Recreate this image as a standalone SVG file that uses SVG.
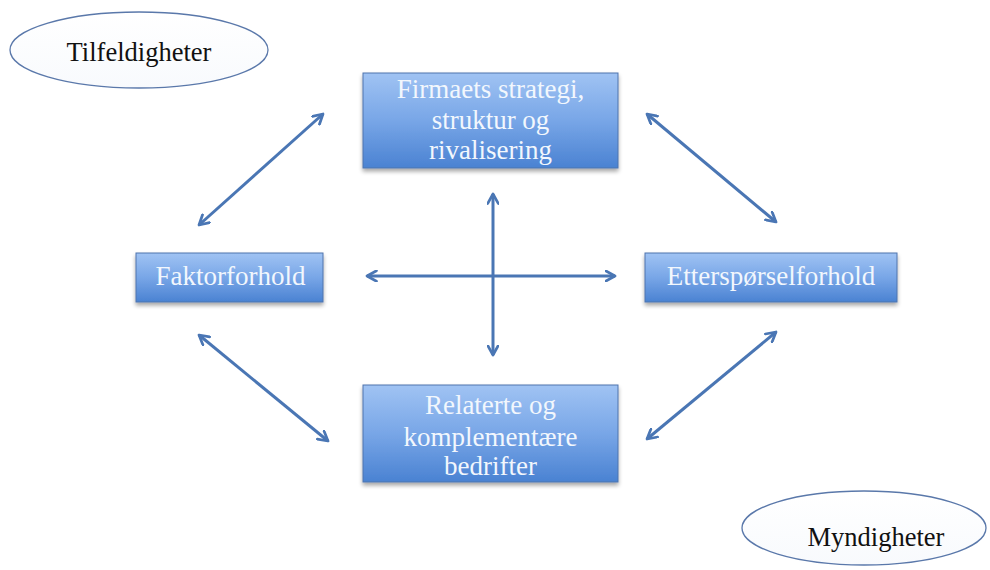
<svg xmlns="http://www.w3.org/2000/svg" width="990" height="570" viewBox="0 0 990 570">
  <defs>
    <linearGradient id="boxFill" x1="0" y1="0" x2="0" y2="1">
      <stop offset="0" stop-color="#a0c3f3"/>
      <stop offset="0.5" stop-color="#78a6e7"/>
      <stop offset="1" stop-color="#4a82d2"/>
    </linearGradient>
    <linearGradient id="ovalFill" x1="0" y1="0" x2="0" y2="1">
      <stop offset="0" stop-color="#ffffff"/>
      <stop offset="1" stop-color="#f8fafd"/>
    </linearGradient>
    <filter id="shadow" x="-10%" y="-10%" width="120%" height="130%">
      <feGaussianBlur in="SourceAlpha" stdDeviation="2"/>
      <feOffset dx="0" dy="3" result="b"/>
      <feComponentTransfer><feFuncA type="linear" slope="0.35"/></feComponentTransfer>
      <feMerge><feMergeNode/><feMergeNode in="SourceGraphic"/></feMerge>
    </filter>
    <marker id="head" viewBox="0 0 12 12" refX="10" refY="6" markerWidth="4.2" markerHeight="4.2" orient="auto-start-reverse" markerUnits="strokeWidth">
      <path d="M1,1 L10,6 L1,11" fill="none" stroke="#4a76b4" stroke-width="2.6" stroke-linecap="round" stroke-linejoin="round"/>
    </marker>
    <style>
      .box { fill: url(#boxFill); stroke: #4f74ad; stroke-width: 1; filter: url(#shadow); }
      .boxText { font-family: "Liberation Serif", "Times New Roman", serif; font-size: 27px; fill: #f2f7fd; text-anchor: middle; }
      .oval { fill: url(#ovalFill); stroke: #5a78aa; stroke-width: 1.3; }
      .ovalText { font-family: "Liberation Serif", "Times New Roman", serif; font-size: 26.5px; fill: #111111; text-anchor: middle; }
      .conn { stroke: #4a76b4; stroke-width: 3; fill: none; marker-start: url(#head); marker-end: url(#head); }
    </style>
  </defs>

  <rect width="990" height="570" fill="#ffffff"/>

  <g id="connectors">
    <line class="conn" x1="199" y1="225" x2="323" y2="114"/>
    <line class="conn" x1="647" y1="114" x2="776" y2="222"/>
    <line class="conn" x1="199" y1="335" x2="328" y2="441"/>
    <line class="conn" x1="776" y1="332" x2="647" y2="439"/>
    <line class="conn" x1="367" y1="276" x2="615" y2="276"/>
    <line class="conn" x1="493" y1="194" x2="493" y2="355"/>
  </g>

  <g id="tilfeldigheter">
    <ellipse class="oval" cx="139" cy="50" rx="129" ry="38"/>
    <text class="ovalText" x="139" y="61">Tilfeldigheter</text>
  </g>

  <g id="myndigheter">
    <ellipse class="oval" cx="864" cy="528" rx="122" ry="37"/>
    <text class="ovalText" x="876" y="546">Myndigheter</text>
  </g>

  <g id="firmaets-strategi">
    <rect class="box" x="363" y="73" width="255" height="95"/>
    <text class="boxText" x="490.5" y="98">Firmaets strategi,</text>
    <text class="boxText" x="490.5" y="129">struktur og</text>
    <text class="boxText" x="490.5" y="159">rivalisering</text>
  </g>

  <g id="faktorforhold">
    <rect class="box" x="136" y="253" width="187" height="49"/>
    <text class="boxText" x="230.5" y="285">Faktorforhold</text>
  </g>

  <g id="ettersporselforhold">
    <rect class="box" x="645" y="253" width="252" height="49"/>
    <text class="boxText" x="771" y="285">Etterspørselforhold</text>
  </g>

  <g id="relaterte-bedrifter">
    <rect class="box" x="363" y="385" width="255" height="97"/>
    <text class="boxText" x="490.5" y="414">Relaterte og</text>
    <text class="boxText" x="490.5" y="446">komplementære</text>
    <text class="boxText" x="490.5" y="475">bedrifter</text>
  </g>
</svg>
